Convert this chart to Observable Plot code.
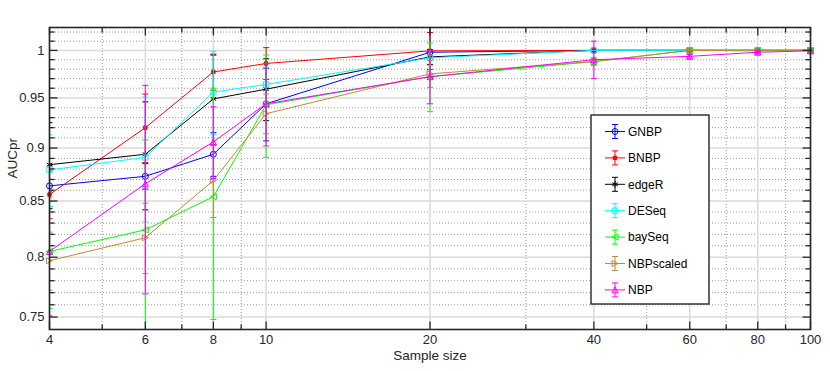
<!DOCTYPE html>
<html>
<head>
<meta charset="utf-8">
<script src="https://cdn.jsdelivr.net/npm/d3@7"></script>
<script src="https://cdn.jsdelivr.net/npm/@observablehq/plot@0.6"></script>
<style>
  body { margin: 0; background: #fff; }
  #chart { width: 830px; height: 371px; }
</style>
</head>
<body>
<div id="chart"></div>
<script>
// ---- data ----
const sampleSizes = [4, 6, 8, 10, 20, 40, 60, 80, 100];
const methods = ["GNBP", "BNBP", "edgeR", "DESeq", "baySeq", "NBPscaled", "NBP"];

const gnbpAUC      = [0.864, 0.873, 0.894, 0.944, 0.998, 1.000, 1.000, 1.000, 1.000];
const gnbpErr      = [0.019, 0.012, 0.021, 0.037, 0.027, 0.000, 0.000, 0.000, 0.000];
const bnbpAUC      = [0.856, 0.920, 0.977, 0.986, 0.9995, 1.000, 1.000, 1.000, 1.000];
const bnbpErr      = [0.022, 0.034, 0.019, 0.017, 0.020, 0.000, 0.000, 0.000, 0.000];
const edgeRAUC     = [0.884, 0.894, 0.949, 0.959, 0.993, 1.000, 1.000, 1.000, 1.000];
const edgeRErr     = [0.041, 0.052, 0.046, 0.032, 0.008, 0.000, 0.000, 0.000, 0.000];
const deseqAUC     = [0.879, 0.891, 0.956, 0.964, 0.992, 1.000, 1.000, 1.000, 1.000];
const deseqErr     = [0.034, 0.060, 0.043, 0.018, 0.008, 0.000, 0.000, 0.000, 0.000];
const bayseqAUC    = [0.805, 0.824, 0.854, 0.943, 0.972, 0.988, 1.000, 1.000, 1.000];
const bayseqErr    = [0.048, 0.084, 0.106, 0.052, 0.036, 0.003, 0.000, 0.000, 0.000];
const nbpscaledAUC = [0.797, 0.817, 0.869, 0.934, 0.975, 0.988, 1.000, 0.9995, 1.000];
const nbpscaledErr = [0.025, 0.031, 0.034, 0.020, 0.014, 0.004, 0.000, 0.000, 0.000];
const nbpAUC       = [0.805, 0.866, 0.906, 0.944, 0.972, 0.990, 0.9936, 0.998, 0.9995];
const nbpErr       = [0.054, 0.097, 0.035, 0.042, 0.028, 0.020, 0.002, 0.002, 0.000];

const xMajorTicks = [4, 6, 8, 10, 20, 40, 60, 80, 100];
const xMinorTicks = [5, 7, 9, 30, 50, 70, 90];
const yMajorTicks = [0.75, 0.8, 0.85, 0.9, 0.95, 1];
const yMinorTicks = [0.76, 0.77, 0.78, 0.79, 0.81, 0.82, 0.83, 0.84, 0.86, 0.87, 0.88, 0.89,
                     0.91, 0.92, 0.93, 0.94, 0.96, 0.97, 0.98, 0.99, 1.01, 1.02];
const xLabel = "Sample size";
const yLabel = "AUCpr";

// ---- styles ----
const colors = ["#0000ff", "#ff0000", "#000000", "#00ffff", "#00ff00", "#bf8b36", "#ff00ff"];

function seg(dx, dy) { return { draw(ctx) { ctx.moveTo(0, 0); ctx.lineTo(dx, dy); } }; }
const capSymbol = { draw(ctx, size) { const h = Math.sqrt(size / Math.PI); ctx.moveTo(-h, 0); ctx.lineTo(h, 0); } };
const triUp = { draw(ctx, size) { const h = Math.sqrt(size / Math.PI); ctx.moveTo(0, -h); ctx.lineTo(h, h); ctx.lineTo(-h, h); ctx.closePath(); } };
const triLeft = { draw(ctx, size) { const h = Math.sqrt(size / Math.PI); ctx.moveTo(-h, 0); ctx.lineTo(h, -h); ctx.lineTo(h, h); ctx.closePath(); } };
const triRight = { draw(ctx, size) { const h = Math.sqrt(size / Math.PI); ctx.moveTo(h, 0); ctx.lineTo(-h, -h); ctx.lineTo(-h, h); ctx.closePath(); } };
const markers = [
  { symbol: d3.symbolCircle, r: 3, filled: false },
  { symbol: d3.symbolSquare, r: 1.9, filled: true },
  { symbol: d3.symbolAsterisk, r: 3, filled: false },
  { symbol: d3.symbolSquare, r: 3, filled: false },
  { symbol: triLeft, r: 3, filled: false },
  { symbol: triRight, r: 3, filled: false },
  { symbol: triUp, r: 3, filled: false }
];

const aucs = [gnbpAUC, bnbpAUC, edgeRAUC, deseqAUC, bayseqAUC, nbpscaledAUC, nbpAUC];
const errs = [gnbpErr, bnbpErr, edgeRErr, deseqErr, bayseqErr, nbpscaledErr, nbpErr];

const seriesMarks = methods.flatMap((m, k) => {
  const rows = sampleSizes.map((n, i) => ({ method: m, n, auc: aucs[k][i], err: errs[k][i] }));
  const c = colors[k];
  const mk = markers[k];
  return [
    Plot.ruleX(rows, { x: "n", y1: d => d.auc - d.err, y2: d => d.auc + d.err, stroke: c, strokeWidth: 1, clip: true }),
    Plot.dot(rows, { x: "n", y: d => d.auc + d.err, symbol: capSymbol, r: 3, stroke: c, fill: "none", strokeWidth: 1, clip: true }),
    Plot.dot(rows, { x: "n", y: d => d.auc - d.err, symbol: capSymbol, r: 3, stroke: c, fill: "none", strokeWidth: 1, clip: true }),
    Plot.line(rows, { x: "n", y: "auc", stroke: c, strokeWidth: 1 }),
    Plot.dot(rows, { x: "n", y: "auc", symbol: mk.symbol, r: mk.r, stroke: c, fill: mk.filled ? c : "none", strokeWidth: 1 })
  ];
});

const axisColor = "#262626";
const fontFam = "'Liberation Sans', Arial, Helvetica, sans-serif";
const plot = Plot.plot({
  width: 830,
  height: 371,
  marginLeft: 49,
  marginRight: 20,
  marginTop: 27,
  marginBottom: 42,
  x: { type: "log", domain: [4, 100], axis: null },
  y: { type: "log", domain: [0.74, 1.025], axis: null },
  style: { fontFamily: fontFam, fontSize: "13px", color: axisColor, background: "#fff" },
  marks: [
    Plot.gridX(xMinorTicks, { stroke: "#9a9a9a", strokeOpacity: 1, strokeWidth: 1, strokeDasharray: "1,2" }),
    Plot.gridY(yMinorTicks, { stroke: "#9a9a9a", strokeOpacity: 1, strokeWidth: 1, strokeDasharray: "1,2" }),
    Plot.gridX(xMajorTicks, { stroke: "#dadada", strokeOpacity: 1, strokeWidth: 1.5 }),
    Plot.gridY(yMajorTicks, { stroke: "#dadada", strokeOpacity: 1, strokeWidth: 1.5 }),
    ...seriesMarks,
    Plot.frame({ stroke: axisColor, strokeWidth: 1.6 }),
    // inward tick marks on all four sides
    Plot.dot(xMajorTicks, { x: d => d, frameAnchor: "bottom", symbol: seg(0, -8), stroke: axisColor, fill: "none", strokeWidth: 1.3 }),
    Plot.dot(xMinorTicks, { x: d => d, frameAnchor: "bottom", symbol: seg(0, -5), stroke: axisColor, fill: "none", strokeWidth: 1.3 }),
    Plot.dot(xMajorTicks, { x: d => d, frameAnchor: "top", symbol: seg(0, 8), stroke: axisColor, fill: "none", strokeWidth: 1.3 }),
    Plot.dot(xMinorTicks, { x: d => d, frameAnchor: "top", symbol: seg(0, 5), stroke: axisColor, fill: "none", strokeWidth: 1.3 }),
    Plot.dot(yMajorTicks, { y: d => d, frameAnchor: "left", symbol: seg(8, 0), stroke: axisColor, fill: "none", strokeWidth: 1.3 }),
    Plot.dot(yMinorTicks, { y: d => d, frameAnchor: "left", symbol: seg(5, 0), stroke: axisColor, fill: "none", strokeWidth: 1.3 }),
    Plot.dot(yMajorTicks, { y: d => d, frameAnchor: "right", symbol: seg(-8, 0), stroke: axisColor, fill: "none", strokeWidth: 1.3 }),
    Plot.dot(yMinorTicks, { y: d => d, frameAnchor: "right", symbol: seg(-5, 0), stroke: axisColor, fill: "none", strokeWidth: 1.3 }),
    // tick labels
    Plot.text(xMajorTicks, { x: d => d, frameAnchor: "bottom", dy: 14, text: d => String(d), fontSize: 13, fill: axisColor }),
    Plot.text(yMajorTicks, { y: d => d, frameAnchor: "left", dx: -5, textAnchor: "end", text: d => String(d), fontSize: 13, fill: axisColor }),
    // axis titles
    Plot.text([xLabel], { frameAnchor: "bottom", dy: 30, text: d => d, fontSize: 13.5, fill: axisColor }),
    Plot.text([yLabel], { frameAnchor: "left", dx: -37, rotate: -90, text: d => d, fontSize: 13.5, fill: axisColor })
  ]
});

// ---- legend (drawn into the same SVG) ----
const svg = d3.select(plot);
const lg = svg.append("g").attr("font-family", fontFam).attr("font-size", 12).attr("text-anchor", "start");
const lx = 591, ly = 115, lw = 118, lh = 189;
lg.append("rect").attr("x", lx).attr("y", ly).attr("width", lw).attr("height", lh)
  .attr("fill", "#fff").attr("stroke", axisColor).attr("stroke-width", 1.4);
methods.forEach((m, k) => {
  const cy = ly + 16.5 + k * 26.4;
  const c = colors[k];
  const g = lg.append("g");
  g.append("line").attr("x1", 605).attr("x2", 625).attr("y1", cy).attr("y2", cy).attr("stroke", c);
  g.append("line").attr("x1", 615).attr("x2", 615).attr("y1", cy - 7).attr("y2", cy + 7).attr("stroke", c);
  g.append("line").attr("x1", 612).attr("x2", 618).attr("y1", cy - 7).attr("y2", cy - 7).attr("stroke", c);
  g.append("line").attr("x1", 612).attr("x2", 618).attr("y1", cy + 7).attr("y2", cy + 7).attr("stroke", c);
  const mk = markers[k];
  g.append("path").attr("transform", `translate(615,${cy})`)
    .attr("d", d3.symbol(mk.symbol, mk.r * mk.r * Math.PI)())
    .attr("stroke", c).attr("fill", mk.filled ? c : "none");
  g.append("text").attr("x", 628).attr("y", cy).attr("dy", "0.35em").attr("text-anchor", "start").attr("fill", "#000").text(m);
});

document.getElementById("chart").appendChild(plot);
</script>
</body>
</html>
